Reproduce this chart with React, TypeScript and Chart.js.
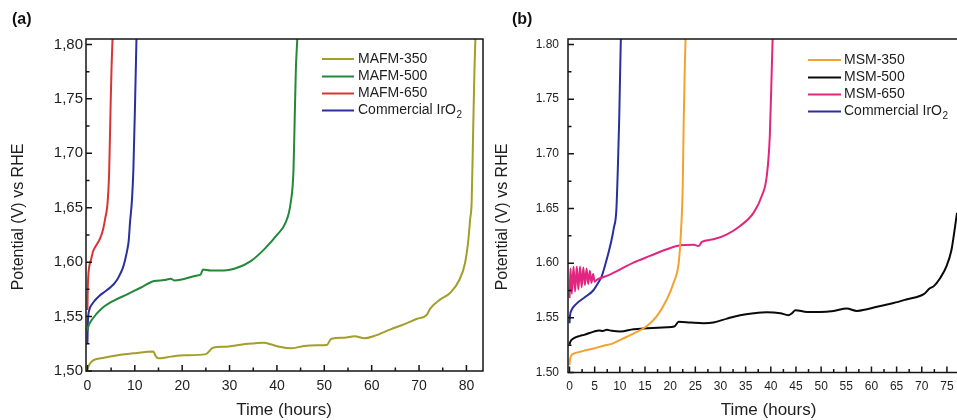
import React, { useEffect, useRef } from "react";
import { Chart, registerables } from "chart.js";

Chart.register(...registerables);

const FONT = "'Liberation Sans', Arial, Helvetica, sans-serif";
const TEXT = "#1e1e1e";

// ---------- Panel (a) data ----------
const mafm350Time = [0, 0.4, 1.3, 3.5, 5.5, 9.7, 13.9, 14.4, 14.9, 17.6, 20.4, 25.0, 26.5, 28.8, 33.0, 37.3, 38.7, 40.8, 42.9, 45.7, 48.5, 50.5, 51.5, 54.2, 56.4, 58.5, 60.5, 64.0, 66.8, 69.6, 71.6, 72.4, 74.5, 76.6, 78.5, 79.7, 80.4, 80.8, 81.1, 81.4, 81.7, 81.9];
const mafm350Pot = [1.5015, 1.506, 1.510, 1.5122, 1.5138, 1.5162, 1.5180, 1.5138, 1.5116, 1.5132, 1.5144, 1.5155, 1.5214, 1.5223, 1.5245, 1.526, 1.5245, 1.522, 1.5208, 1.523, 1.5236, 1.5238, 1.5297, 1.5306, 1.532, 1.530, 1.5321, 1.5383, 1.5428, 1.548, 1.5514, 1.5576, 1.5658, 1.5719, 1.5836, 1.599, 1.620, 1.640, 1.6545, 1.7157, 1.777, 1.805];

const mafm500Time = [0, 0.2, 1.1, 2.8, 5.5, 8.4, 11.2, 14.1, 16.2, 17.6, 18.3, 19.6, 23.2, 23.9, 24.4, 26.0, 28.8, 31.6, 34.5, 37.3, 40.1, 41.8, 42.9, 43.5, 43.75, 44.0, 44.3];
const mafm500Pot = [1.537, 1.541, 1.548, 1.5566, 1.5645, 1.5704, 1.5765, 1.5826, 1.5835, 1.5848, 1.5832, 1.5838, 1.5878, 1.5887, 1.5933, 1.5924, 1.5924, 1.5949, 1.601, 1.6117, 1.6255, 1.636, 1.6545, 1.685, 1.731, 1.777, 1.805];

const mafm650Time = [0, 0.05, 0.15, 0.35, 0.8, 1.2, 1.8, 2.7, 3.3, 3.75, 4.2, 4.45, 4.6, 4.9, 5.1, 5.3];
const mafm650Pot = [1.556, 1.570, 1.585, 1.595, 1.603, 1.610, 1.615, 1.622, 1.630, 1.640, 1.652, 1.668, 1.685, 1.745, 1.780, 1.805];

const iro2aTime = [0, 0.1, 0.4, 1.0, 1.6, 2.5, 3.7, 5.0, 5.5, 6.3, 6.9, 7.5, 7.95, 8.4, 8.7, 9.0, 9.4, 9.7, 10.05, 10.35];
const iro2aPot = [1.525, 1.545, 1.556, 1.5615, 1.565, 1.569, 1.573, 1.5775, 1.5795, 1.584, 1.589, 1.595, 1.602, 1.611, 1.619, 1.637, 1.657, 1.685, 1.745, 1.805];

const labelsA = ["MAFM-350", "MAFM-500", "MAFM-650", "Commercial IrO\u2082"];
const colorsA = ["#a29e2a", "#23883a", "#d83434", "#2b2f9e"];

const xTicksA = [0, 10, 20, 30, 40, 50, 60, 70, 80];
const xTickLabelsA = ["0", "10", "20", "30", "40", "50", "60", "70", "80"];
const xMinorA = [5, 15, 25, 35, 45, 55, 65, 75];
const yTicksA = [1.5, 1.55, 1.6, 1.65, 1.7, 1.75, 1.8];
const yTickLabelsA = ["1,50", "1,55", "1,60", "1,65", "1,70", "1,75", "1,80"];
const yMinorTicks = [1.525, 1.575, 1.625, 1.675, 1.725, 1.775];

// ---------- Panel (b) data ----------
const msm350Time = [0, 0.1, 0.3, 1.1, 2.8, 4.8, 6.8, 8.4, 10.4, 12.7, 15.4, 17.4, 19.35, 20.7, 21.7, 22.1, 22.5, 22.7, 22.9, 23.06];
const msm350Pot = [1.507, 1.512, 1.5152, 1.5177, 1.5198, 1.5219, 1.5245, 1.5262, 1.5305, 1.5356, 1.5426, 1.5518, 1.567, 1.5822, 1.6005, 1.6248, 1.6705, 1.7314, 1.7771, 1.805];

const msm500Time = [0, 0.15, 0.9, 2.1, 2.9, 4.8, 5.9, 6.6, 7.4, 8.4, 10.1, 12.7, 15.4, 19.35, 20.8, 21.7, 24.0, 26.6, 28.6, 31.3, 33.9, 36.6, 39.2, 41.9, 43.5, 44.2, 44.9, 47.2, 49.8, 52.5, 55.1, 57.1, 59.1, 61.8, 64.4, 67.1, 70.4, 71.6, 72.4, 73.6, 74.9, 75.9, 76.6, 77.0];
const msm500Pot = [1.5255, 1.528, 1.5314, 1.5335, 1.5344, 1.5374, 1.5385, 1.538, 1.539, 1.5381, 1.5375, 1.5396, 1.5405, 1.5414, 1.542, 1.5463, 1.5457, 1.5451, 1.5457, 1.5493, 1.5524, 1.5542, 1.5551, 1.5542, 1.5524, 1.5542, 1.557, 1.5554, 1.5554, 1.5563, 1.5585, 1.5563, 1.5579, 1.5609, 1.5635, 1.567, 1.5716, 1.577, 1.579, 1.586, 1.597, 1.612, 1.633, 1.646];

const msm650Time = [0, 0.2, 0.45, 0.8, 1.1, 1.45, 1.75, 2.1, 2.4, 2.75, 3.05, 3.4, 3.7, 4.05, 4.35, 4.7, 5.0, 5.4, 7.4, 10.1, 12.7, 16.0, 19.35, 22.0, 24.65, 25.65, 26.3, 28.6, 31.3, 33.9, 36.6, 38.2, 39.2, 39.8, 40.1, 40.36];
const msm650Pot = [1.568, 1.595, 1.572, 1.597, 1.574, 1.597, 1.576, 1.597, 1.578, 1.596, 1.580, 1.595, 1.581, 1.593, 1.582, 1.590, 1.583, 1.5847, 1.5883, 1.5944, 1.6005, 1.6066, 1.6127, 1.6163, 1.6169, 1.6157, 1.6194, 1.6218, 1.6264, 1.634, 1.6462, 1.6614, 1.6797, 1.7162, 1.7619, 1.805];

const iro2bTime = [0, 0.1, 0.4, 1.4, 3.1, 4.7, 5.7, 6.4, 7.0, 7.6, 8.3, 8.8, 9.3, 9.6, 9.87, 10.07, 10.2];
const iro2bPot = [1.545, 1.552, 1.557, 1.563, 1.569, 1.575, 1.582, 1.588, 1.597, 1.607, 1.620, 1.632, 1.648, 1.686, 1.731, 1.777, 1.805];

const labelsB = ["MSM-350", "MSM-500", "MSM-650", "Commercial IrO\u2082"];
const colorsB = ["#f2a232", "#0a0a0a", "#e2257e", "#2b2f9e"];

const xTicksB = [0, 5, 10, 15, 20, 25, 30, 35, 40, 45, 50, 55, 60, 65, 70, 75];
const xTickLabelsB = ["0", "5", "10", "15", "20", "25", "30", "35", "40", "45", "50", "55", "60", "65", "70", "75"];
const xMinorB = [2.5, 7.5, 12.5, 17.5, 22.5, 27.5, 32.5, 37.5, 42.5, 47.5, 52.5, 57.5, 62.5, 67.5, 72.5, 77.5];
const yTicksB = [1.5, 1.55, 1.6, 1.65, 1.7, 1.75, 1.8];
const yTickLabelsB = ["1.50", "1.55", "1.60", "1.65", "1.70", "1.75", "1.80"];

const X_TITLE = "Time (hours)";
const Y_TITLE = "Potential (V) vs RHE";

type Series = { label: string; color: string; t: number[]; v: number[] };

type PanelCfg = {
  left: number;
  width: number;
  series: Series[];
  xMin: number;
  xMax: number;
  yMin: number;
  yMax: number;
  xTicks: number[];
  xTickLabels: string[];
  xMinor: number[];
  yTicks: number[];
  yTickLabels: string[];
  yMinor: number[];
  yAxisW: number;
  xAxisH: number;
  padTop: number;
  padRight: number;
  yTickPad: number;
  xTickPad: number;
  xTickFont: number;
  yTickFont: number;
  rightFrame: boolean;
  panelLabel: string;
  panelLabelX: number;
  yTitleX: number;
  xTitleX: number;
  legendX1: number;
  legendX2: number;
  legendTextX: number;
  legendY: number[];
};

function decorPlugin(p: PanelCfg) {
  return {
    id: "decor",
    afterDraw(chart: any) {
      const ctx: CanvasRenderingContext2D = chart.ctx;
      const { left, right, top, bottom } = chart.chartArea;
      const xs = chart.scales.x;
      const ys = chart.scales.y;
      ctx.save();
      ctx.strokeStyle = "#151515";
      ctx.lineWidth = 1.5;
      ctx.beginPath();
      ctx.moveTo(left, top);
      ctx.lineTo(right + (p.rightFrame ? 0.75 : 2), top);
      ctx.moveTo(left, top - 0.75);
      ctx.lineTo(left, bottom);
      ctx.moveTo(left - 0.75, bottom);
      ctx.lineTo(right + (p.rightFrame ? 0.75 : 2), bottom);
      if (p.rightFrame) {
        ctx.moveTo(right, top);
        ctx.lineTo(right, bottom);
      }
      ctx.stroke();

      // inward ticks
      ctx.beginPath();
      for (const v of p.xTicks) {
        const px = xs.getPixelForValue(v);
        ctx.moveTo(px, bottom);
        ctx.lineTo(px, bottom - 6);
      }
      for (const v of p.xMinor) {
        const px = xs.getPixelForValue(v);
        if (px > right) continue;
        ctx.moveTo(px, bottom);
        ctx.lineTo(px, bottom - 3.5);
      }
      for (const v of p.yTicks) {
        const py = ys.getPixelForValue(v);
        ctx.moveTo(left, py);
        ctx.lineTo(left + 6, py);
      }
      for (const v of p.yMinor) {
        const py = ys.getPixelForValue(v);
        ctx.moveTo(left, py);
        ctx.lineTo(left + 3.5, py);
      }
      ctx.stroke();

      // legend
      ctx.textBaseline = "middle";
      ctx.textAlign = "left";
      chart.data.datasets.forEach((ds: any, i: number) => {
        const y = p.legendY[i];
        ctx.strokeStyle = ds.borderColor;
        ctx.lineWidth = 2;
        ctx.beginPath();
        ctx.moveTo(p.legendX1, y);
        ctx.lineTo(p.legendX2, y);
        ctx.stroke();
        ctx.fillStyle = TEXT;
        ctx.font = `14px ${FONT}`;
        const label: string = ds.label;
        if (label.endsWith("\u2082")) {
          const base = label.slice(0, -1);
          ctx.fillText(base, p.legendTextX, y);
          const w = ctx.measureText(base).width;
          ctx.font = `10px ${FONT}`;
          ctx.fillText("2", p.legendTextX + w + 0.5, y + 5);
        } else {
          ctx.fillText(label, p.legendTextX, y);
        }
      });

      // axis titles
      ctx.fillStyle = TEXT;
      ctx.font = `17px ${FONT}`;
      ctx.textAlign = "center";
      ctx.textBaseline = "middle";
      ctx.fillText(X_TITLE, p.xTitleX, 410);

      ctx.save();
      ctx.font = `16px ${FONT}`;
      ctx.translate(p.yTitleX, 217);
      ctx.rotate(-Math.PI / 2);
      ctx.fillText(Y_TITLE, 0, 0);
      ctx.restore();

      // panel label
      ctx.font = `bold 16px ${FONT}`;
      ctx.textAlign = "left";
      ctx.textBaseline = "middle";
      ctx.fillStyle = "#111";
      ctx.fillText(p.panelLabel, p.panelLabelX, 20);
      ctx.restore();
    },
  };
}

function Panel({ cfg }: { cfg: PanelCfg }) {
  const ref = useRef<HTMLCanvasElement>(null);
  useEffect(() => {
    const p = cfg;
    const chart = new Chart(ref.current as HTMLCanvasElement, {
      type: "line",
      data: {
        datasets: p.series.map((s) => ({
          label: s.label,
          data: s.t.map((t, i) => ({ x: t, y: s.v[i] })),
          borderColor: s.color,
          backgroundColor: s.color,
          borderWidth: 2,
          pointRadius: 0,
          fill: false,
          cubicInterpolationMode: "monotone" as const,
        })),
      },
      options: {
        animation: false,
        responsive: false,
        maintainAspectRatio: false,
        devicePixelRatio: 1,
        events: [],
        layout: { padding: { left: 0, right: p.padRight, top: p.padTop, bottom: 0 } },
        plugins: { legend: { display: false }, tooltip: { enabled: false }, title: { display: false } },
        scales: {
          x: {
            type: "linear",
            min: p.xMin,
            max: p.xMax,
            grid: { display: false, drawTicks: false },
            border: { display: false },
            afterBuildTicks: (s: any) => {
              s.ticks = p.xTicks.map((value) => ({ value }));
            },
            afterFit: (s: any) => {
              s.height = p.xAxisH;
              s.paddingLeft = 0;
              s.paddingRight = 0;
            },
            ticks: {
              padding: p.xTickPad,
              autoSkip: false,
              maxRotation: 0,
              minRotation: 0,
              color: TEXT,
              font: { family: FONT, size: p.xTickFont },
              callback: (_v: any, i: number) => p.xTickLabels[i],
            },
          },
          y: {
            type: "linear",
            min: p.yMin,
            max: p.yMax,
            grid: { display: false, drawTicks: false },
            border: { display: false },
            afterBuildTicks: (s: any) => {
              s.ticks = p.yTicks.map((value) => ({ value }));
            },
            afterFit: (s: any) => {
              s.width = p.yAxisW;
              s.paddingTop = 0;
              s.paddingBottom = 0;
            },
            ticks: {
              padding: p.yTickPad,
              autoSkip: false,
              color: TEXT,
              font: { family: FONT, size: p.yTickFont },
              callback: (_v: any, i: number) => p.yTickLabels[i],
            },
          },
        },
      },
      plugins: [decorPlugin(p)],
    } as any);
    return () => chart.destroy();
  }, [cfg]);
  return (
    <canvas
      ref={ref}
      width={cfg.width}
      height={420}
      style={{ position: "absolute", left: cfg.left, top: 0, width: cfg.width, height: 420 }}
    />
  );
}

const panelA: PanelCfg = {
  left: 0,
  width: 490,
  series: [
    { label: labelsA[0], color: colorsA[0], t: mafm350Time, v: mafm350Pot },
    { label: labelsA[1], color: colorsA[1], t: mafm500Time, v: mafm500Pot },
    { label: labelsA[2], color: colorsA[2], t: mafm650Time, v: mafm650Pot },
    { label: labelsA[3], color: colorsA[3], t: iro2aTime, v: iro2aPot },
  ],
  xMin: -0.3,
  xMax: 83.5,
  yMin: 1.5,
  yMax: 1.805,
  xTicks: xTicksA,
  xTickLabels: xTickLabelsA,
  xMinor: xMinorA,
  yTicks: yTicksA,
  yTickLabels: yTickLabelsA,
  yMinor: yMinorTicks,
  yAxisW: 86,
  xAxisH: 49,
  padTop: 39,
  padRight: 7,
  yTickPad: 3,
  xTickPad: 7,
  xTickFont: 14,
  yTickFont: 15,
  rightFrame: true,
  panelLabel: "(a)",
  panelLabelX: 12,
  yTitleX: 18.5,
  xTitleX: 284,
  legendX1: 322,
  legendX2: 354,
  legendTextX: 358,
  legendY: [59, 76.5, 93.5, 110.5],
};

const panelB: PanelCfg = {
  left: 477,
  width: 480,
  series: [
    { label: labelsB[0], color: colorsB[0], t: msm350Time, v: msm350Pot },
    { label: labelsB[1], color: colorsB[1], t: msm500Time, v: msm500Pot },
    { label: labelsB[2], color: colorsB[2], t: msm650Time, v: msm650Pot },
    { label: labelsB[3], color: colorsB[3], t: iro2bTime, v: iro2bPot },
  ],
  xMin: -0.3,
  xMax: 77,
  yMin: 1.5,
  yMax: 1.805,
  xTicks: xTicksB,
  xTickLabels: xTickLabelsB,
  xMinor: xMinorB,
  yTicks: yTicksB,
  yTickLabels: yTickLabelsB,
  yMinor: yMinorTicks,
  yAxisW: 91,
  xAxisH: 47.5,
  padTop: 39,
  padRight: 0,
  yTickPad: 9,
  xTickPad: 7,
  xTickFont: 12,
  yTickFont: 12,
  rightFrame: false,
  panelLabel: "(b)",
  panelLabelX: 35,
  yTitleX: 25.5,
  xTitleX: 291.5,
  legendX1: 331,
  legendX2: 364,
  legendTextX: 367,
  legendY: [60, 77.5, 94.5, 111.5],
};

export default function App() {
  return (
    <div style={{ position: "absolute", left: 0, top: 0, width: 957, height: 420, background: "#fff", overflow: "hidden" }}>
      <Panel cfg={panelA} />
      <Panel cfg={panelB} />
    </div>
  );
}
